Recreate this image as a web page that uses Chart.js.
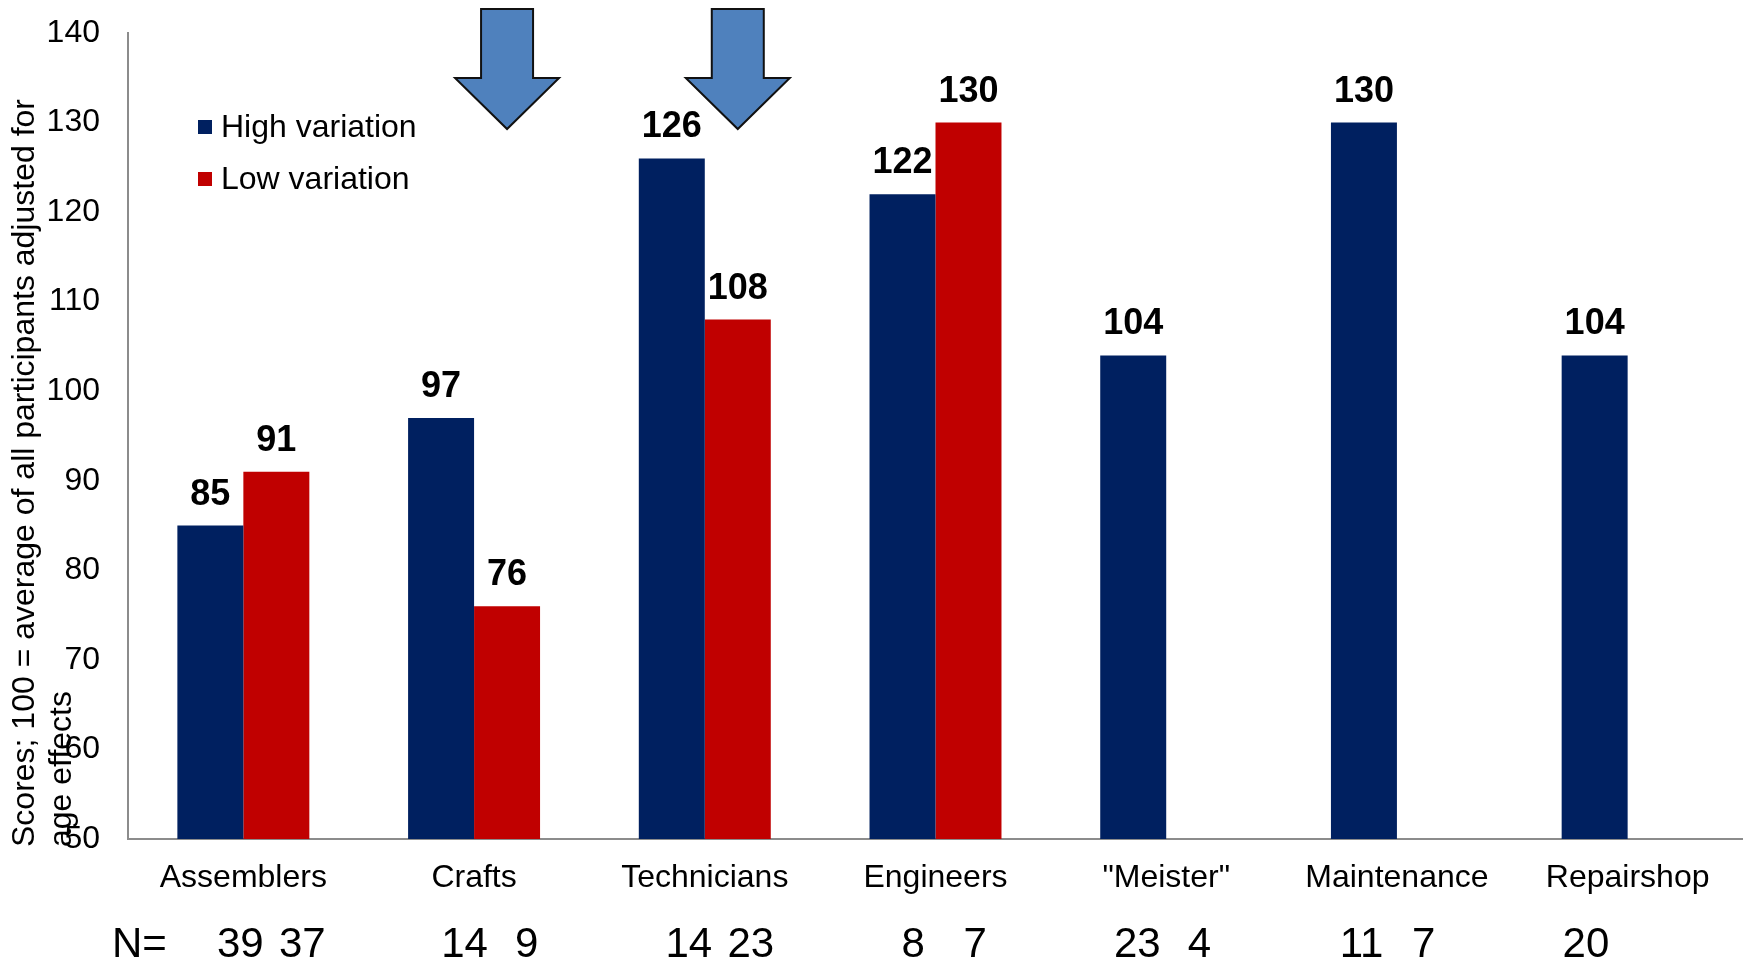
<!DOCTYPE html>
<html>
<head>
<meta charset="UTF-8">
<title>Scores by job group</title>
<script src="https://cdn.jsdelivr.net/npm/chart.js@4.4.0/dist/chart.umd.min.js"></script>
<style>
  body { margin: 0; background: #fff; }
  .chart-container { position: relative; width: 1743px; height: 963px; }
</style>
</head>
<body>
<div class="chart-container">
  <canvas id="chart"></canvas>
</div>

<script>
  const groups = ['Assemblers', 'Crafts', 'Technicians', 'Engineers', '"Meister"', 'Maintenance', 'Repairshop']
  const highVariation = [85, 97, 126, 122, 104, 130, 104]
  const lowVariation = [91, 76, 108, 130, null, null, null]
  const nHigh = [39, 14, 14, 8, 23, 11, 20]
  const nLow = [37, 9, 23, 7, 4, 7, null]
  const yTicks = [50, 60, 70, 80, 90, 100, 110, 120, 130, 140]
  const arrowGroups = [1, 2]   // Crafts, Technicians (low variation bars)
  const yTitle = ['Scores; 100 = average of all participants adjusted for', 'age effects']

  const navy = '#002060'
  const red = '#C00000'
  const font = '"Liberation Sans", Arial, sans-serif'

  // labels, legend, arrows, N counts and axis title
  const extras = {
    id: 'extras',
    afterDraw(chart) {
      const ctx = chart.ctx
      ctx.save()

      // values over bars
      ctx.fillStyle = '#000'
      ctx.font = 'bold 36px ' + font
      ctx.textAlign = 'center'
      ctx.textBaseline = 'alphabetic'
      chart.data.datasets.forEach((ds, di) => {
        chart.getDatasetMeta(di).data.forEach((bar, i) => {
          if (ds.data[i] == null) return
          ctx.fillText(String(ds.data[i]), bar.x, bar.y - 21)
        })
      })

      // arrows pointing at the low variation bars
      const lowBars = chart.getDatasetMeta(1).data
      arrowGroups.forEach(i => {
        const x = lowBars[i].x
        ctx.beginPath()
        ctx.moveTo(x - 26, 9)
        ctx.lineTo(x + 26, 9)
        ctx.lineTo(x + 26, 78)
        ctx.lineTo(x + 52, 78)
        ctx.lineTo(x, 129)
        ctx.lineTo(x - 52, 78)
        ctx.lineTo(x - 26, 78)
        ctx.closePath()
        ctx.fillStyle = '#4F81BD'
        ctx.fill()
        ctx.lineWidth = 2
        ctx.strokeStyle = '#111'
        ctx.stroke()
      })

      // legend
      ctx.font = '32px ' + font
      ctx.textAlign = 'left'
      ctx.textBaseline = 'middle'
      chart.data.datasets.forEach((ds, di) => {
        const y = 127 + di * 52
        ctx.fillStyle = ds.backgroundColor
        ctx.fillRect(198, y - 7, 14, 14)
        ctx.fillStyle = '#000'
        ctx.fillText(ds.label, 221, y + 1)
      })

      // N row
      ctx.font = '42px ' + font
      ctx.textBaseline = 'middle'
      ctx.textAlign = 'left'
      ctx.fillText('N=', 112, 945)
      ctx.textAlign = 'center'
      const xs = chart.scales.x
      const c0 = xs.getPixelForValue(0)
      groups.forEach((g, i) => {
        const c = xs.getPixelForValue(i)
        const x1 = c0 - 3 + (c - c0) * 0.972
        if (nHigh[i] != null) ctx.fillText(String(nHigh[i]), x1, 945)
        if (nLow[i] != null) ctx.fillText(String(nLow[i]), x1 + 62, 945)
      })

      // y axis title, two lines starting from the bottom
      ctx.font = '32px ' + font
      ctx.textAlign = 'left'
      ctx.textBaseline = 'middle'
      yTitle.forEach((line, k) => {
        ctx.save()
        ctx.translate(25 + k * 37, 847)
        ctx.rotate(-Math.PI / 2)
        ctx.fillText(line, 0, 0)
        ctx.restore()
      })

      ctx.restore()
    }
  }

  const ctx = document.querySelector('#chart').getContext('2d')
  const chart = new Chart(ctx, {
    type: 'bar',
    data: {
      labels: groups,
      datasets: [
        { label: 'High variation', data: highVariation, backgroundColor: navy },
        { label: 'Low variation', data: lowVariation, backgroundColor: red }
      ]
    },
    options: {
      responsive: true,
      maintainAspectRatio: false,
      animation: false,
      layout: { padding: { top: 33, right: 0, left: 0, bottom: 0 } },
      datasets: { bar: { categoryPercentage: 0.572, barPercentage: 1 } },
      plugins: {
        legend: { display: false },
        tooltip: { enabled: false }
      },
      scales: {
        x: {
          grid: { display: false, drawTicks: false },
          border: { color: '#8c8c8c', width: 2 },
          ticks: { color: '#000', font: { family: font, size: 32 }, padding: 20, maxRotation: 0 },
          afterFit(scale) { scale.height = 124 }
        },
        y: {
          min: 50,
          max: 140,
          afterBuildTicks(scale) { scale.ticks = yTicks.map(v => ({ value: v })) },
          grid: { display: false, drawTicks: false },
          border: { color: '#8c8c8c', width: 2 },
          ticks: { color: '#000', font: { family: font, size: 32 }, padding: 28 },
          afterFit(scale) {
            scale.width = 128
            scale.paddingTop = 0
            scale.paddingBottom = 0
          }
        }
      }
    },
    plugins: [extras]
  })
</script>
</body>
</html>
